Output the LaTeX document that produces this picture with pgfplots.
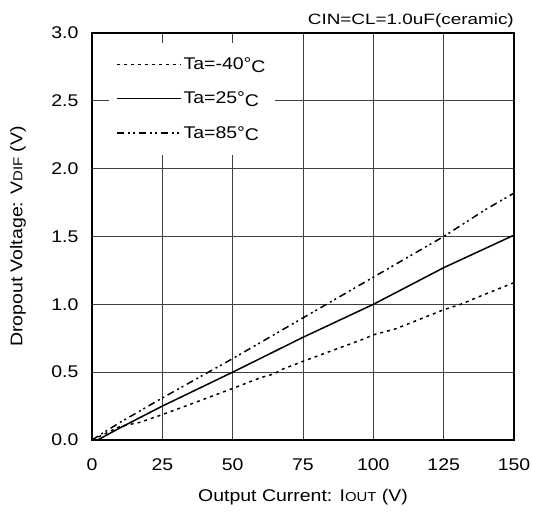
\documentclass[border=0pt]{standalone}
\usepackage{graphicx}
\usepackage{fontspec}
\setmainfont{Liberation Sans}[FakeStretch=1.15]
\usepackage{pgfplots}
\pgfplotsset{compat=1.18}
\newcommand{\degC}{°\raisebox{-2.5bp}{C}}
\begin{document}
\begin{tikzpicture}
\useasboundingbox (0,0) rectangle (533bp,512bp);
\begin{axis}[
  name=ax,
  at={(92bp,72bp)}, anchor=south west,
  scale only axis, width=422bp, height=407bp,
  xmin=0, xmax=150, ymin=0, ymax=3,
  xtick={0,25,50,75,100,125,150},
  ytick={0,0.5,1,1.5,2,2.5,3},
  yticklabels={0.0,0.5,1.0,1.5,2.0,2.5,3.0},
  /pgf/number format/assume math mode=true,
  tick style={draw=none},
  grid=major,
  major grid style={draw=black!75, line width=0.9bp},
  axis line style={line width=1.8bp},
  tick label style={font=\fontsize{17}{20}\selectfont},
  xticklabel style={yshift=-15bp},
  yticklabel style={xshift=-10bp},
  every axis x label/.style={at={(axis description cs:0.5,0)}, anchor=center, yshift=-57bp, font=\fontsize{17}{20}\selectfont},
  every axis y label/.style={at={(axis description cs:0,0.5)}, anchor=center, rotate=90, yshift=74bp, font=\fontsize{17}{20}\selectfont},
  xlabel={Output Current: I{\fontsize{13}{15}\selectfont OUT} (V)},
  ylabel={Dropout Voltage: V{\fontsize{13}{15}\selectfont DIF} (V)},
  legend style={at={(axis cs:6,2.93)}, anchor=north west, draw=none, fill=white,
    font=\fontsize{17}{20}\selectfont, row sep=17bp, inner xsep=7bp, inner ysep=13bp},
  legend cell align=left,
  legend image code/.code={\draw[#1] (0bp,0bp) -- (64bp,0bp);},
  clip=true,
]
\addplot[black, line width=1.5bp, dash pattern=on 3bp off 4bp] coordinates {
(0,0) (5,0.05) (10,0.1) (17,0.13) (24,0.18) (30,0.225) (50,0.38) (60,0.46) (64.5,0.486) (67.5,0.52) (75,0.58) (96.5,0.744) (100,0.775) (108,0.82) (125,0.96) (131,1.0) (138,1.06) (150,1.16)};
\addlegendentry{Ta=-40\degC}
\addplot[black, line width=1.5bp] coordinates {
(2,0) (10,0.09) (25,0.25) (50,0.5) (75,0.757) (100,1.0) (125,1.27) (150,1.51)};
\addlegendentry{Ta=25\degC}
\addplot[black, line width=1.5bp, dash pattern=on 7bp off 4bp on 2bp off 3bp on 2bp off 4bp] coordinates {
(0,0) (3,0.04) (10,0.13) (20,0.25) (25,0.31) (50,0.6) (75,0.9) (85,1.02) (100,1.2) (125,1.5) (140,1.70) (150,1.82)};
\addlegendentry{Ta=85\degC}
\end{axis}
\node[anchor=south east, font=\fontsize{15}{17}\selectfont, inner sep=0pt] at ([yshift=5bp]ax.north east) {\scalebox{1.1}[1]{CIN=CL=1.0uF(ceramic)}};
\end{tikzpicture}
\end{document}
